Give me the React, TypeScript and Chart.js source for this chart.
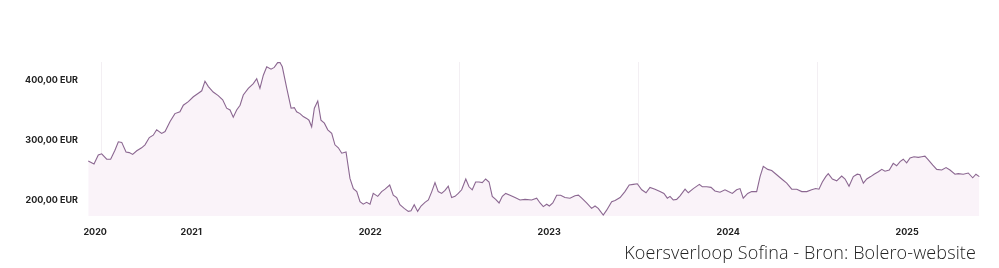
import React, { useEffect, useRef } from "react";
import { Chart, registerables } from "chart.js";

Chart.register(...registerables);

// Decimal-year dates of each sampled point
const dates: number[] = [
  2020.925, 2020.957, 2020.981, 2021.0, 2021.028, 2021.05, 2021.074, 2021.093, 2021.112, 2021.136,
  2021.154, 2021.173, 2021.196, 2021.223, 2021.242, 2021.266, 2021.288, 2021.307, 2021.335, 2021.354,
  2021.382, 2021.409, 2021.437, 2021.456, 2021.484, 2021.512, 2021.54, 2021.559, 2021.577, 2021.596,
  2021.623, 2021.651, 2021.676, 2021.698, 2021.717, 2021.735, 2021.754,
  2021.773, 2021.791, 2021.819, 2021.847, 2021.866, 2021.884, 2021.903, 2021.922, 2021.946, 2021.964,
  2021.983, 2021.996, 2022.009, 2022.034, 2022.058, 2022.076, 2022.089, 2022.108, 2022.126, 2022.145,
  2022.158, 2022.173, 2022.188, 2022.207, 2022.225, 2022.244, 2022.263, 2022.285, 2022.303, 2022.322,
  2022.341, 2022.365, 2022.387, 2022.406, 2022.425, 2022.443, 2022.461, 2022.48, 2022.499, 2022.517,
  2022.542, 2022.564, 2022.583,
  2022.609, 2022.629, 2022.648, 2022.666, 2022.69, 2022.713, 2022.728, 2022.746, 2022.765, 2022.784,
  2022.806, 2022.825, 2022.844, 2022.862, 2022.88, 2022.899, 2022.918, 2022.936, 2022.955, 2022.974,
  2022.992, 2023.011, 2023.034, 2023.052, 2023.07, 2023.089, 2023.108, 2023.126, 2023.145, 2023.164,
  2023.182, 2023.201, 2023.22, 2023.238, 2023.257, 2023.281, 2023.309, 2023.337, 2023.365, 2023.402,
  2023.43, 2023.449, 2023.467,
  2023.486, 2023.501, 2023.52, 2023.542, 2023.564, 2023.588, 2023.616, 2023.644, 2023.663, 2023.682,
  2023.709, 2023.737, 2023.756, 2023.774, 2023.802, 2023.821, 2023.849, 2023.868, 2023.896, 2023.923,
  2023.947, 2023.97, 2023.992, 2024.017, 2024.041, 2024.063, 2024.091, 2024.119, 2024.141, 2024.16,
  2024.175, 2024.193, 2024.212, 2024.231, 2024.259, 2024.277, 2024.305, 2024.339,
  2024.355, 2024.38, 2024.404, 2024.426, 2024.454, 2024.482, 2024.501, 2024.523, 2024.547, 2024.566,
  2024.584, 2024.609, 2024.631, 2024.659, 2024.678, 2024.696, 2024.721, 2024.743, 2024.771, 2024.799,
  2024.827, 2024.855, 2024.883, 2024.911, 2024.939, 2024.966, 2024.989, 2025.007, 2025.026, 2025.045,
  2025.059, 2025.082, 2025.106, 2025.134,
  2025.153, 2025.175, 2025.199, 2025.221, 2025.236, 2025.255, 2025.274, 2025.296, 2025.315, 2025.339,
  2025.358, 2025.376, 2025.4, 2025.422, 2025.441, 2025.46, 2025.478, 2025.497, 2025.516, 2025.538,
  2025.562, 2025.581, 2025.599, 2025.618, 2025.643, 2025.665, 2025.693, 2025.717, 2025.739, 2025.767,
  2025.785, 2025.813, 2025.841, 2025.866, 2025.884, 2025.903,
];

// Share price in EUR
const prices: number[] = [
  265, 260, 275, 277, 268, 268, 283, 297, 296, 280,
  279, 276, 282, 287, 292, 304, 308, 317, 311, 314,
  331, 344, 347, 358, 364, 372, 378, 382, 398, 389,
  380, 374, 367, 353, 350, 338, 350,
  358, 375, 386, 394, 402, 386, 408, 422, 418, 421,
  429, 429, 422, 386, 353, 354, 347, 344, 339, 336,
  333, 322, 353, 365, 333, 328, 317, 311, 292, 287,
  278, 280, 236, 219, 214, 197, 193, 196, 193, 211,
  206, 214, 218,
  225, 208, 204, 192, 186, 181, 182, 192, 181, 190,
  196, 200, 214, 229, 214, 211, 216, 223, 204, 206,
  211, 217, 235, 222, 217, 230, 230, 229, 235, 230,
  206, 201, 195, 206, 211, 208, 204, 200, 201, 200,
  203, 195, 189,
  193, 190, 195, 208, 208, 204, 203, 207, 208, 203,
  195, 186, 190, 186, 175, 183, 197, 199, 204, 214,
  225, 226, 227, 217, 212, 221, 218, 214, 211, 203,
  206, 200, 201, 207, 218, 212, 219, 226,
  222, 222, 221, 215, 213, 217, 214, 211, 217, 219,
  203, 211, 214, 214, 239, 256, 251, 249, 242, 235,
  228, 218, 218, 214, 214, 217, 219, 218, 230, 239,
  244, 235, 232, 240,
  235, 223, 239, 243, 242, 228, 235, 239, 243, 247,
  251, 248, 250, 261, 257, 264, 268, 262, 270, 272,
  271, 272, 273, 267, 258, 251, 250, 254, 250, 243,
  244, 243, 245, 237, 243, 239,
];

const yearLabels: string[] = ["2020", "2021", "2022", "2023", "2024", "2025"];
const gridYears: number[] = [2021, 2022, 2023, 2024, 2025];
const yTicks: number[] = [200, 300, 400];

const X_MIN = 2020.9235;
const X_MAX = 2025.9067;
const Y_MIN = 173.3;
const Y_MAX = 430;

export default function App() {
  const ref = useRef<HTMLCanvasElement | null>(null);

  useEffect(() => {
    if (!ref.current) return;
    const labelTicks = yearLabels.map((l) => {
      const y = parseInt(l, 10);
      return { value: Math.max(y + 0.5, X_MIN + 0.04), label: l };
    });
    const chart = new Chart(ref.current, {
      type: "line",
      data: {
        datasets: [
          {
            data: dates.map((d, i) => ({ x: d, y: prices[i] })),
            borderColor: "#8b6791",
            borderWidth: 1.1,
            backgroundColor: "#faf3f9",
            fill: "start",
            pointRadius: 0,
            tension: 0,
          },
        ],
      },
      options: {
        responsive: false,
        animation: false,
        events: [],
        layout: { padding: { left: 0, right: 19, top: 62, bottom: 32 } },
        plugins: { legend: { display: false }, tooltip: { enabled: false } },
        scales: {
          x: {
            type: "linear",
            min: X_MIN,
            max: X_MAX,
            border: { display: false },
            afterBuildTicks: (axis: any) => {
              const t = [
                ...labelTicks.map((o) => ({ value: o.value })),
                ...gridYears.map((g) => ({ value: g })),
              ].sort((a, b) => a.value - b.value);
              axis.ticks = t;
            },
            afterFit: (axis: any) => {
              axis.height = 20;
            },
            grid: {
              drawTicks: false,
              lineWidth: 1,
              color: (ctx: any) =>
                ctx.tick && gridYears.includes(ctx.tick.value) ? "#f3eff3" : "rgba(0,0,0,0)",
            },
            ticks: {
              autoSkip: false,
              maxRotation: 0,
              padding: 11,
              color: "#222",
              font: { family: "Inter", size: 9, weight: "bold" },
              callback: (v: any) => {
                const f = labelTicks.find((o) => Math.abs(o.value - Number(v)) < 1e-6);
                return f ? f.label : "";
              },
            },
          },
          y: {
            min: Y_MIN,
            max: Y_MAX,
            border: { display: false },
            afterBuildTicks: (axis: any) => {
              axis.ticks = yTicks.map((v) => ({ value: v }));
            },
            afterFit: (axis: any) => {
              axis.width = 88;
            },
            grid: { display: false, drawTicks: false },
            ticks: {
              padding: 10,
              color: "#222",
              font: { family: "Inter", size: 9, weight: "bold" },
              callback: (v: any) => Number(v).toFixed(2).replace(".", ",") + " EUR",
            },
          },
        },
      },
    } as any);
    return () => chart.destroy();
  }, []);

  return (
    <div style={{ position: "absolute", left: 0, top: 0, width: 999, height: 268, background: "#fff" }}>
      <canvas ref={ref} width={999} height={268} style={{ position: "absolute", left: 0, top: 0 }} />
      <div
        style={{
          position: "absolute",
          right: 23,
          top: 240,
          fontFamily: "'Open Sans', sans-serif",
          fontWeight: 300,
          fontSize: 18,
          letterSpacing: "0.12px",
          color: "#222",
          whiteSpace: "nowrap",
          lineHeight: "24px",
        }}
      >
        Koersverloop Sofina - Bron: Bolero-website
      </div>
    </div>
  );
}
